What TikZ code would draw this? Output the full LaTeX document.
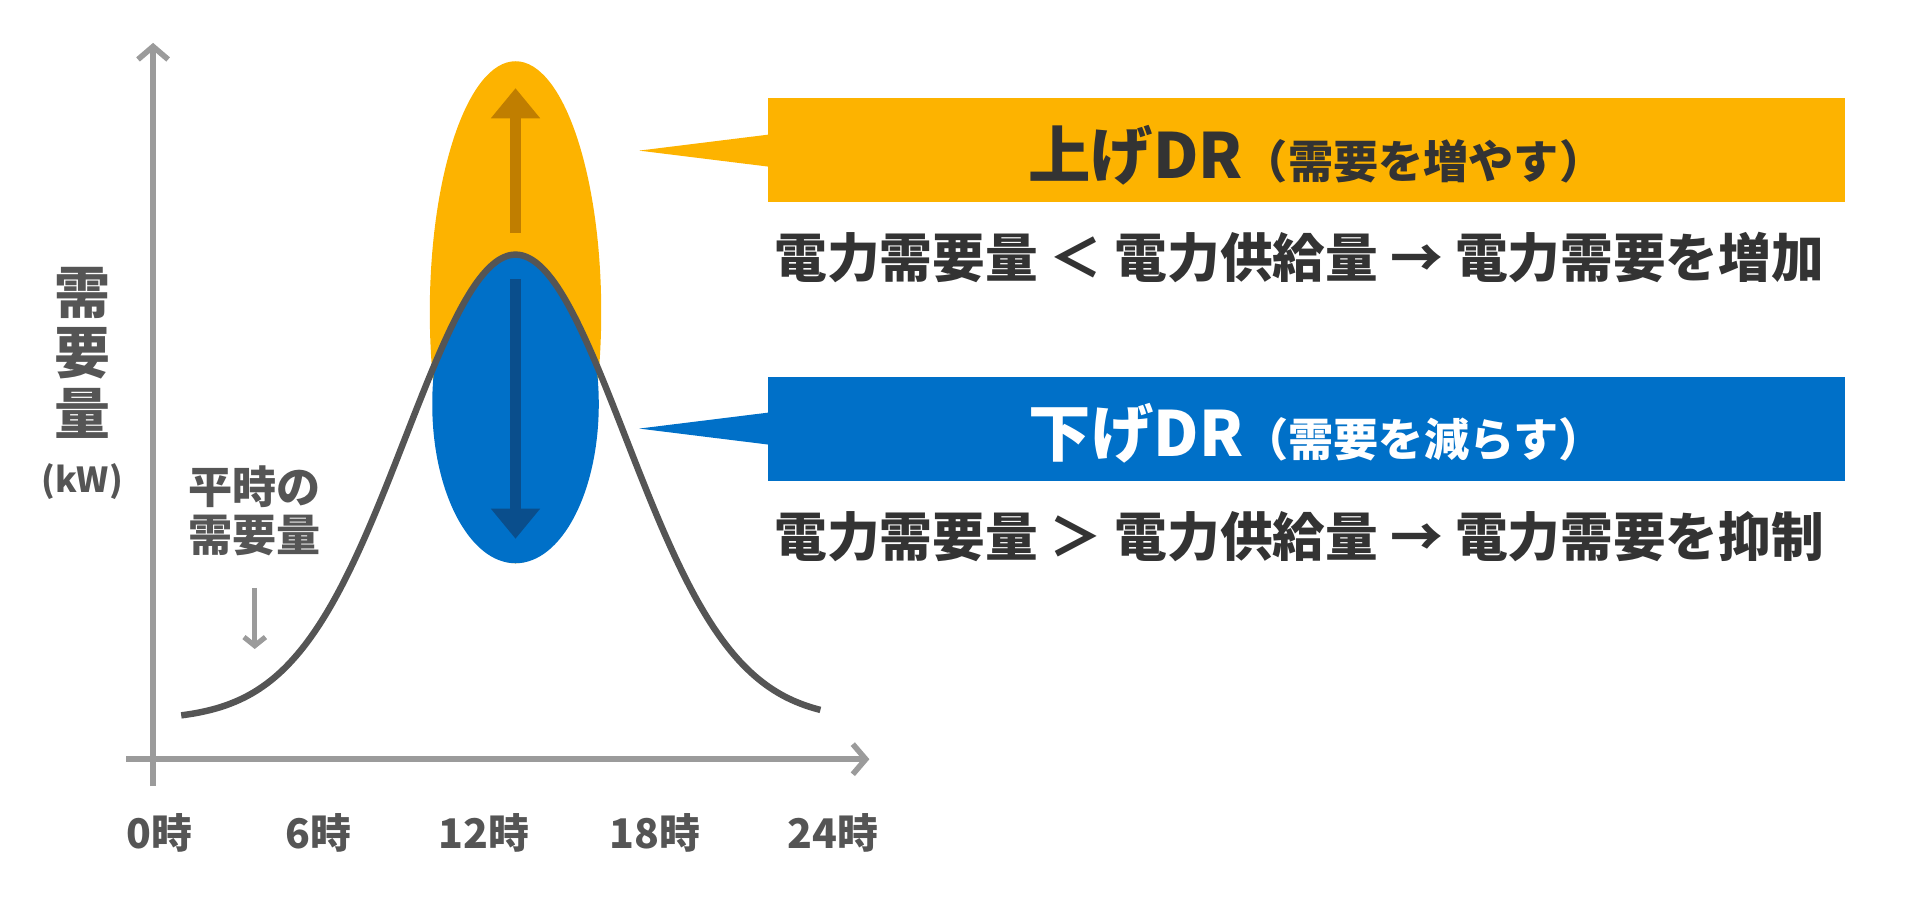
\documentclass[tikz,border=0pt]{standalone}
\usepackage{fontspec}
\setmainfont{Noto Sans CJK JP}
\usetikzlibrary{arrows.meta,positioning}
\definecolor{axisgray}{HTML}{9B9B9B}
\definecolor{curvegray}{HTML}{555555}
\definecolor{upor}{HTML}{FDB300}
\definecolor{uparr}{HTML}{C07E00}
\definecolor{dnbl}{HTML}{0070C8}
\definecolor{dnarr}{HTML}{0A4E8C}
\definecolor{txt}{HTML}{333333}
\newcommand{\fs}[1]{\fontsize{#1}{#1}\selectfont}
\begin{document}
\begin{tikzpicture}[x=0.02cm,y=-0.02cm,
    axis/.style={axisgray,line width=2.6pt,-{Straight Barb[length=6pt,width=14pt]}},
    tick label/.style={text=curvegray,font=\bfseries\fs{19}},
    side label/.style={text=curvegray,font=\bfseries\fs{20.5},align=center,inner sep=0pt},
    main text/.style={text=txt,font=\bfseries\fs{24.5},inner sep=0pt},
    box/.style={minimum width=17.6cm,minimum height=1.7cm,inner sep=0pt}]
  \useasboundingbox (0,0) rectangle (1568,735);

  % ellipses
  \fill[upor] (421,255) ellipse [x radius=70,y radius=205];
  \begin{scope}
    \clip plot[domain=100:740,samples=120,smooth] (\x,{588-380*exp(-((\x-421)/90)^2/2)}) -- (740,740) -- (100,740) -- cycle;
    \fill[dnbl] (421,330) ellipse [x radius=68,y radius=130];
  \end{scope}

  % axes
  \coordinate (ytop) at (125,35);
  \coordinate (ybot) at (125,642);
  \coordinate (xl) at (103,620);
  \coordinate (xr) at (710,620);
  \draw[axis] (ybot) -- (ytop);
  \draw[axis] (xl) -- (xr);

  % demand curve
  \draw[curvegray,line width=3pt] plot[domain=148:670,samples=120,smooth] (\x,{588-380*exp(-((\x-421)/90)^2/2)});

  % DR arrows
  \coordinate (ua) at (421,190);
  \coordinate (ub) at (421,72);
  \coordinate (da) at (421,228);
  \coordinate (db) at (421,440);
  \draw[uparr,line width=5pt,-{Triangle[length=14pt,width=22pt]}] (ua) -- (ub);
  \draw[dnarr,line width=5pt,-{Triangle[length=14pt,width=22pt]}] (da) -- (db);

  % axis labels
  \node[tick label] (t0) at (130,680) {0時};
  \node[tick label] (t6) at (260,680) {6時};
  \node[tick label] (t12) at (395,680) {12時};
  \node[tick label] (t18) at (535,680) {18時};
  \node[tick label] (t24) at (680,680) {24時};
  \node[text=curvegray,font=\bfseries\fs{26},align=center,inner sep=0pt] (ylab) at (67,288) {需\\[2pt]要\\[2pt]量};
  \node[text=curvegray,font=\bfseries\fs{16},inner sep=0pt] (unit) at (67,393) {(kW)};
  \node[side label] (usual) at (208,417) {平時の\\[2pt]需要量};
  \coordinate (ua1) at (208,480);
  \coordinate (ua2) at (208,530);
  \draw[axisgray,line width=2.4pt,-{Straight Barb[length=4pt,width=10pt]}] (ua1) -- (ua2);

  % boxes
  \node[box,fill=upor] (upbox) at (1067,122.5) {};
  \node[box,fill=dnbl] (dnbox) at (1067,350) {};
  \coordinate (uptip) at (522,123);
  \coordinate (dntip) at (522,350);
  \fill[upor] (uptip) -- (627,110) -- (627,136) -- cycle;
  \fill[dnbl] (dntip) -- (627,337) -- (627,363) -- cycle;
  \node[text=txt,font=\bfseries\fs{29}] at (1075,127) {上げDR{\fs{21}（需要を増やす）}};
  \node[text=white,font=\bfseries\fs{29}] at (1075,354) {下げDR{\fs{21}（需要を減らす）}};

  % explanations
  \node[main text,anchor=west] (up text) at (632,210) {電力需要量 ＜ 電力供給量 → 電力需要を増加};
  \node[main text,anchor=west] (dn text) at (632,438) {電力需要量 ＞ 電力供給量 → 電力需要を抑制};
\end{tikzpicture}
\end{document}
